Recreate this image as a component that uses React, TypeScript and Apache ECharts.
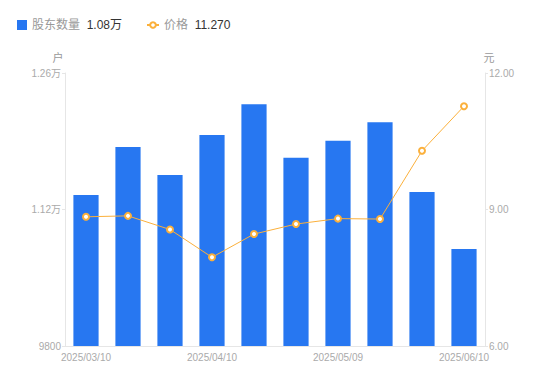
import React, { useEffect, useRef } from "react";
import * as echarts from "echarts";

const categories = ["2025/03/10", "2025/03/20", "2025/03/31", "2025/04/10", "2025/04/18", "2025/04/30", "2025/05/09", "2025/05/20", "2025/05/30", "2025/06/10"];
const holders = [11350, 11840, 11555, 11965, 12280, 11730, 11905, 12095, 11380, 10795];
const prices = [8.84, 8.86, 8.56, 7.95, 8.46, 8.68, 8.80, 8.79, 10.29, 11.27];
const leftTicks = { min: 9800, max: 12600, interval: 1400 };
const rightTicks = { min: 6, max: 12, interval: 3 };

const fmtHolders = (v: number) => (v >= 10000 ? (v / 10000).toFixed(2) + "万" : String(v));

export default function App() {
  const ref = useRef<HTMLDivElement>(null);
  useEffect(() => {
    if (!ref.current) return;
    document.body.style.margin = "0";
    const chart = echarts.init(ref.current, null, { renderer: "svg" });
    const lastHolders = holders[holders.length - 1];
    const lastPrice = prices[prices.length - 1];
    const rich = {
      n: { color: "#999", fontSize: 12 },
      v: { color: "#333", fontSize: 12 },
    };
    chart.setOption({
      animation: false,
      textStyle: { fontFamily: "Liberation Sans, Noto Sans CJK SC, sans-serif" },
      legend: [
        {
          left: 12,
          top: 14,
          itemWidth: 10,
          itemHeight: 10,
          data: [{ name: "股东数量", icon: "rect" }],
          formatter: (name: string) => `{n|${name}}  {v|${fmtHolders(lastHolders)}}`,
          textStyle: { rich },
        },
        {
          left: 141,
          top: 14,
          itemWidth: 12,
          itemHeight: 7,
          data: [{ name: "价格" }],
          formatter: (name: string) => `{n|${name}}  {v|${lastPrice.toFixed(3)}}`,
          textStyle: { rich },
        },
      ],
      grid: { left: 65, right: 65, top: 73, bottom: 35 },
      xAxis: {
        type: "category",
        data: categories,
        axisLine: { lineStyle: { color: "#e6e6e6" } },
        axisTick: { show: false },
        axisLabel: { color: "#aaa", fontSize: 10, interval: 2, margin: 6 },
      },
      yAxis: [
        {
          type: "value",
          name: "户",
          nameTextStyle: { color: "#999", fontSize: 11, padding: [0, 14, 0, 0] },
          nameGap: 10,
          min: leftTicks.min,
          max: leftTicks.max,
          interval: leftTicks.interval,
          axisLine: { show: true, lineStyle: { color: "#e6e6e6" } },
          axisTick: { show: true, length: 3, lineStyle: { color: "#e6e6e6" } },
          splitLine: { show: false },
          axisLabel: { color: "#aaa", fontSize: 10, margin: 4, formatter: fmtHolders },
        },
        {
          type: "value",
          name: "元",
          nameTextStyle: { color: "#999", fontSize: 11, padding: [0, 0, 0, 8] },
          nameGap: 10,
          min: rightTicks.min,
          max: rightTicks.max,
          interval: rightTicks.interval,
          axisLine: { show: true, lineStyle: { color: "#e6e6e6" } },
          axisTick: { show: true, length: 3, lineStyle: { color: "#e6e6e6" } },
          splitLine: { show: false },
          axisLabel: { color: "#aaa", fontSize: 10, margin: 4, formatter: (v: number) => v.toFixed(2) },
        },
      ],
      series: [
        {
          name: "股东数量",
          type: "bar",
          data: holders,
          barWidth: "60%",
          itemStyle: { color: "#2777f1" },
        },
        {
          name: "价格",
          type: "line",
          yAxisIndex: 1,
          data: prices,
          symbol: "circle",
          symbolSize: 6,
          lineStyle: { color: "#fbb03b", width: 1 },
          itemStyle: { color: "#fff", borderColor: "#fbb03b", borderWidth: 2 },
        },
      ],
    });
    return () => chart.dispose();
  }, []);
  return <div ref={ref} style={{ width: 550, height: 381 }} />;
}
